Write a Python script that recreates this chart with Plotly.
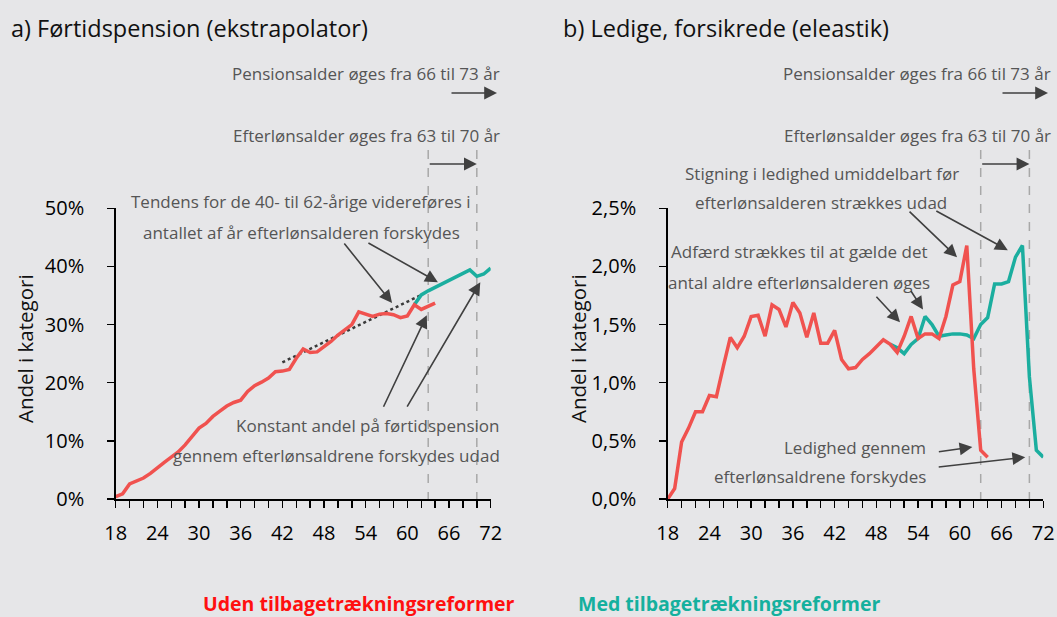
import plotly.graph_objects as go

# ---------------- data ----------------
ages_red = list(range(18, 65))
fp_red = [0.4, 0.9, 2.6, 3.1, 3.6, 4.4, 5.4, 6.3, 7.2, 8.1, 9.3, 10.7, 12.2, 13.0, 14.2,
          15.1, 16.0, 16.6, 17.0, 18.5, 19.5, 20.1, 20.8, 21.9, 22.0, 22.3, 24.2, 25.8,
          25.2, 25.3, 26.2, 27.1, 28.2, 29.1, 30.0, 32.2, 31.8, 31.4, 31.8, 31.9, 31.7,
          31.2, 31.5, 33.4, 32.6, 33.1, 33.7]
ages_fp_teal = list(range(61, 73))
fp_teal = [33.4, 35.1, 35.8, 36.4, 37.0, 37.5, 38.1, 38.7, 39.4, 38.3, 38.7, 39.7]
trend_ages = [42, 62]
trend_vals = [23.5, 35.1]

led_red = [0.0, 0.09, 0.49, 0.61, 0.75, 0.75, 0.89, 0.88, 1.14, 1.39, 1.30, 1.40, 1.57,
           1.58, 1.40, 1.67, 1.63, 1.48, 1.69, 1.60, 1.39, 1.60, 1.34, 1.34, 1.45, 1.20,
           1.12, 1.13, 1.20, 1.25, 1.31, 1.37, 1.33, 1.26, 1.40, 1.57, 1.38, 1.42, 1.42,
           1.38, 1.57, 1.84, 1.87, 2.18, 1.12, 0.42, 0.36]
ages_led_teal = list(range(50, 73))
led_teal = [1.33, 1.30, 1.25, 1.33, 1.38, 1.57, 1.50, 1.40, 1.41, 1.42, 1.42, 1.41,
            1.38, 1.50, 1.56, 1.85, 1.85, 1.87, 2.08, 2.18, 1.05, 0.42, 0.36]

x_tickvals = list(range(18, 73, 2))
x_ticktext = [str(v) if (v - 18) % 6 == 0 else "" for v in x_tickvals]
fp_tickvals = [0, 10, 20, 30, 40, 50]
fp_ticktext = ["0%", "10%", "20%", "30%", "40%", "50%"]
led_tickvals = [0, 0.5, 1.0, 1.5, 2.0, 2.5]
led_ticktext = ["0,0%", "0,5%", "1,0%", "1,5%", "2,0%", "2,5%"]

# ---------------- style ----------------
W, H = 1057, 617
BG = "#E6E6E8"
RED = "#F0524F"
TEAL = "#1BAE9F"
ARROW = "#404040"
TXT = "#555555"
FONT = "Open Sans"
NOTE = 17


def px(p):
    return p / W


def py(p):
    return 1 - p / H


XL = (115.7, 490.7)
XR = (667.7, 1043.3)
YB, YT = 499, 208.3


def age_px(panel, a):
    x0, x1 = XL if panel == 0 else XR
    return x0 + (a - 18) / 54 * (x1 - x0)


fig = go.Figure()
fig.add_trace(go.Scatter(x=trend_ages, y=trend_vals, mode="lines",
                         line=dict(color="#3A3A3A", width=2.5, dash="dot"),
                         xaxis="x", yaxis="y", showlegend=False, hoverinfo="skip"))
fig.add_trace(go.Scatter(x=ages_fp_teal, y=fp_teal, mode="lines",
                         line=dict(color=TEAL, width=3.5),
                         xaxis="x", yaxis="y", showlegend=False))
fig.add_trace(go.Scatter(x=ages_red, y=fp_red, mode="lines",
                         line=dict(color=RED, width=3.5),
                         xaxis="x", yaxis="y", showlegend=False))
fig.add_trace(go.Scatter(x=ages_led_teal, y=led_teal, mode="lines",
                         line=dict(color=TEAL, width=3.5),
                         xaxis="x2", yaxis="y2", showlegend=False))
fig.add_trace(go.Scatter(x=ages_red, y=led_red, mode="lines",
                         line=dict(color=RED, width=3.5),
                         xaxis="x2", yaxis="y2", showlegend=False))

axis_common = dict(showgrid=False, zeroline=False, showline=True, linecolor="black",
                   linewidth=1.5, ticks="outside", ticklen=7, tickwidth=1.5,
                   automargin=False, fixedrange=True,
                   tickcolor="black", tickfont=dict(family=FONT, size=20, color="black"))

fig.update_layout(
    template="none",
    width=W, height=H,
    paper_bgcolor=BG, plot_bgcolor=BG,
    margin=dict(l=0, r=0, t=0, b=0, pad=0),
    showlegend=False,
    hovermode=False,
    xaxis=dict(domain=[px(XL[0]), px(XL[1])], range=[18, 72], tickvals=x_tickvals,
               ticktext=x_ticktext, anchor="y", ticklabelstandoff=8, **axis_common),
    yaxis=dict(domain=[py(YB), py(YT)], range=[0, 50], tickvals=fp_tickvals,
               ticktext=fp_ticktext, anchor="x", ticklabelstandoff=19, **axis_common),
    xaxis2=dict(domain=[px(XR[0]), px(XR[1])], range=[18, 72], tickvals=x_tickvals,
                ticktext=x_ticktext, anchor="y2", ticklabelstandoff=8, **axis_common),
    yaxis2=dict(domain=[py(YB), py(YT)], range=[0, 2.5], tickvals=led_tickvals,
                ticktext=led_ticktext, anchor="x2", ticklabelstandoff=19, **axis_common),
)

ann = []


def text(xp, yp, s, xanchor="center", size=NOTE, color=TXT, bold=False, angle=0, family=FONT):
    ann.append(dict(x=px(xp), y=py(yp), xref="paper", yref="paper", text=s,
                    showarrow=False, xanchor=xanchor, yanchor="middle", textangle=angle,
                    borderpad=0,
                    font=dict(family=family, size=size, color=color,
                              weight="bold" if bold else "normal")))


def hz_arrow(x_tail, x_head, yp):
    ann.append(dict(x=px(x_head), y=py(yp), ax=x_tail - x_head, ay=0, xref="paper",
                    yref="paper", text="", showarrow=True,
                    arrowhead=2, arrowsize=1.6, arrowwidth=1.6, arrowcolor=ARROW))


def data_arrow(panel, xa, ya, dx, dy):
    xr, yr = ("x", "y") if panel == 0 else ("x2", "y2")
    ann.append(dict(x=xa, y=ya, xref=xr, yref=yr, ax=dx, ay=dy, text="", showarrow=True,
                    arrowhead=2, arrowsize=1.6, arrowwidth=1.6, arrowcolor=ARROW))


# titles
text(10, 28, "a) Førtidspension (ekstrapolator)", xanchor="left", size=23.5, color="#111111")
text(562, 28, "b) Ledige, forsikrede (eleastik)", xanchor="left", size=23.5, color="#111111")

# y-axis titles
text(25, 349, "Andel i kategori", size=20.5, color="#111111", angle=-90)
text(578, 349, "Andel i kategori", size=20.5, color="#111111", angle=-90)

shapes = []
for panel, right in ((0, 501), (1, 1052)):
    text(right, 73, "Pensionsalder øges fra 66 til 73 år", xanchor="right")
    text(right, 135, "Efterlønsalder øges fra 63 til 70 år", xanchor="right")
    p63, p70 = age_px(panel, 63), age_px(panel, 70)
    hz_arrow(right - 51, right - 4, 93)
    hz_arrow(p63, p70, 164)
    for xx in (p63, p70):
        shapes.append(dict(type="line", xref="paper", yref="paper", x0=px(xx), x1=px(xx),
                           y0=py(150), y1=py(YB), layer="below",
                           line=dict(color="#A8A8A8", width=1.5, dash="dash")))

# left panel notes
text(301, 202, "Tendens for de 40- til 62-årige videreføres i")
text(301, 232, "antallet af år efterlønsalderen forskydes")
data_arrow(0, 57.8, 33.7, -49, -61)
data_arrow(0, 64.4, 37.3, -71, -40)
text(501, 425, "Konstant andel på førtidspension", xanchor="right")
text(501, 455, "gennem efterlønsaldrene forskydes udad", xanchor="right")
data_arrow(0, 62.8, 31.6, -44, 93)
data_arrow(0, 70.5, 37.3, -74, 126)

# right panel notes
text(822, 173, "Stigning i ledighed umiddelbart før")
text(821, 203, "efterlønsalderen strækkes udad")
data_arrow(1, 59.6, 2.08, -49, -47)
data_arrow(1, 66.9, 2.14, -73, -40)
text(799, 252, "Adfærd strækkes til at gælde det")
text(799, 282, "antal aldre efterlønsalderen øges")
data_arrow(1, 51.4, 1.52, -25, -27)
data_arrow(1, 54.7, 1.63, -13, -20)
text(927, 447, "Ledighed gennem", xanchor="right")
text(927, 476, "efterlønsaldrene forskydes", xanchor="right")
data_arrow(1, 61.8, 0.447, -35, 5)
data_arrow(1, 69.4, 0.36, -88, 10)

# legend
text(359, 603, "Uden tilbagetrækningsreformer", size=19.5, color="#FF1010", bold=True)
text(729, 603, "Med tilbagetrækningsreformer", size=19.5, color="#15B09E", bold=True)

fig.update_layout(annotations=ann, shapes=shapes)
fig.write_html(
    "out.html",
    config={"displayModeBar": False, "staticPlot": True},
    post_script="document.body.style.margin='0px';document.body.style.padding='0px';"
                "document.body.style.overflow='hidden';"
                "document.body.style.background='" + BG + "';",
)
